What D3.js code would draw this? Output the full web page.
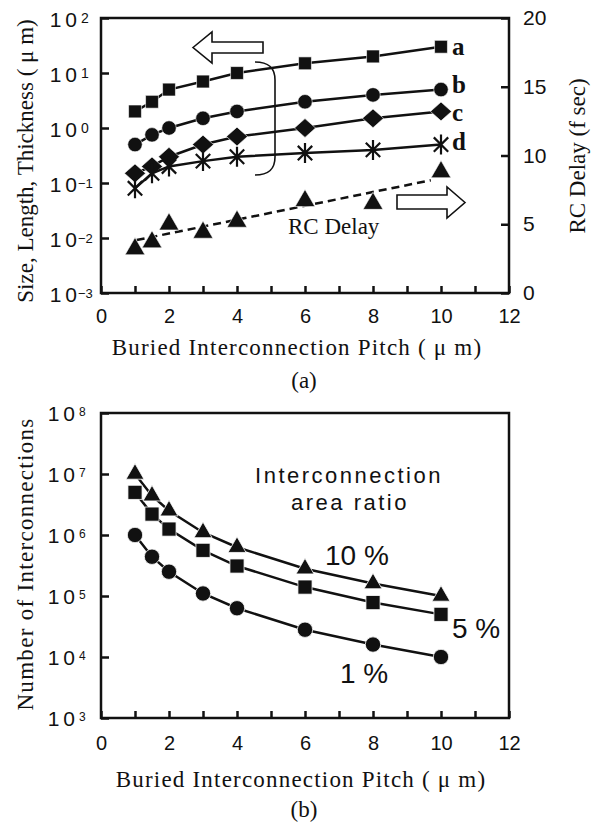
<!DOCTYPE html>
<html><head><meta charset="utf-8">
<script src="https://cdn.jsdelivr.net/npm/d3@7"></script>
<style>body{margin:0;background:#fff} svg{display:block}</style>
</head><body><svg id="c" width="599" height="828"></svg>
<script>
// ---------- data ----------
const pitch = [1, 1.5, 2, 3, 4, 6, 8, 10];
const seriesA = [2, 3, 5, 7, 10, 15, 20, 30];
const seriesB = [0.5, 0.75, 1, 1.5, 2, 3, 4, 5];
const seriesC = [0.15, 0.2, 0.3, 0.5, 0.7, 1.0, 1.5, 2.0];
const seriesD = [0.08, 0.15, 0.2, 0.25, 0.3, 0.35, 0.4, 0.5];
const rcDelay = [3.2, 3.7, 5.0, 4.4, 5.2, 6.7, 6.5, 8.8];
const rcTrendX = [1.05, 9.7];
const rcTrendY = [3.85, 8.2];
const count10 = [1.0e7, 4.4e6, 2.5e6, 1.1e6, 6.3e5, 2.8e5, 1.6e5, 1.0e5];
const count5 = [5.0e6, 2.2e6, 1.25e6, 5.6e5, 3.1e5, 1.4e5, 7.8e4, 5.0e4];
const count1 = [1.0e6, 4.4e5, 2.5e5, 1.1e5, 6.3e4, 2.8e4, 1.6e4, 1.0e4];
const xTicks = [0,1,2,3,4,5,6,7,8,9,10,11,12];
const xTickLabels = ["0","","2","","4","","6","","8","","10","","12"];
const expTop = [-3, -2, -1, 0, 1, 2];
const expBottom = [3, 4, 5, 6, 7, 8];
const rcTicks = [0, 5, 10, 15, 20];
const seriesLabels = ["a", "b", "c", "d"];
const ratioLabels = ["10 %", "5 %", "1 %"];

// ---------- setup ----------
const SANS = "'Liberation Sans', Arial, sans-serif";
const SERIF = "'Liberation Serif', 'Times New Roman', serif";
const INK = "#111";
const svg = d3.select("#c");
svg.append("rect").attr("width", 599).attr("height", 828).attr("fill", "#fff");

const P1 = {l: 101, r: 509, t: 18, b: 293};
const P2 = {l: 101, r: 509, t: 413, b: 718};
const x1 = d3.scaleLinear([0, 12], [P1.l, P1.r]);
const y1 = d3.scaleLog([1e-3, 1e2], [P1.b, P1.t]);
const yR = d3.scaleLinear([0, 20], [P1.b, P1.t]);
const x2 = d3.scaleLinear([0, 12], [P2.l, P2.r]);
const y2 = d3.scaleLog([1e3, 1e8], [P2.b, P2.t]);

// custom symbols
const asterisk = {draw(ctx, size) {
  const r = Math.sqrt(size) / 2, d = r * 0.72;
  ctx.moveTo(0, -r); ctx.lineTo(0, r);
  ctx.moveTo(-d, -d); ctx.lineTo(d, d);
  ctx.moveTo(-d, d); ctx.lineTo(d, -d);
}};
const diamond = {draw(ctx, size) {
  const w = Math.sqrt(size) * 0.72, h = Math.sqrt(size) * 0.64;
  ctx.moveTo(0, -h); ctx.lineTo(w, 0); ctx.lineTo(0, h); ctx.lineTo(-w, 0); ctx.closePath();
}};

function frame(P) {
  svg.append("rect").attr("x", P.l).attr("y", P.t).attr("width", P.r - P.l).attr("height", P.b - P.t)
    .attr("fill", "none").attr("stroke", INK).attr("stroke-width", 2.5);
}

function xAxis(P, x, pad) {
  const g = svg.append("g").attr("transform", `translate(0,${P.b})`)
    .call(d3.axisBottom(x).tickValues(xTicks).tickSize(-7).tickSizeOuter(0).tickPadding(pad)
      .tickFormat((d, i) => xTickLabels[i]));
  g.select(".domain").remove();
  g.selectAll(".tick line").attr("stroke", INK).attr("stroke-width", 2.5);
  g.selectAll(".tick text").attr("font-family", SANS).attr("font-size", 20).attr("fill", INK);
}

function logAxis(P, y, exps, endX, base, expDy, expSize) {
  const g = svg.append("g").attr("transform", `translate(${P.l},0)`)
    .call(d3.axisLeft(y).tickValues(exps.map(e => Math.pow(10, e))).tickSize(-8).tickSizeOuter(0).tickFormat(() => ""));
  g.select(".domain").remove();
  g.selectAll(".tick line").attr("stroke", INK).attr("stroke-width", 2.5);
  const lab = svg.append("g");
  exps.forEach(e => {
    const yy = y(Math.pow(10, e));
    const t = lab.append("text").attr("x", endX).attr("y", yy + base).attr("text-anchor", "end")
      .attr("font-family", SANS).attr("font-size", 21).attr("fill", INK);
    t.append("tspan").text("1");
    t.append("tspan").attr("dx", 4).text("0");
    lab.append("text").attr("x", endX + (e < 0 ? 1 : 4)).attr("y", yy + expDy)
      .attr("font-family", SANS).attr("font-size", e < 0 ? expSize - 1 : expSize).attr("fill", INK)
      .text(e < 0 ? "\u2212" + (-e) : String(e));
  });
}

// ================= Chart (a) =================
frame(P1);
xAxis(P1, x1, 16);
logAxis(P1, y1, expTop, 77, 9, 5, 14);
{
  const g = svg.append("g").attr("transform", `translate(${P1.r},0)`)
    .call(d3.axisRight(yR).tickValues(rcTicks).tickSize(-8).tickSizeOuter(0).tickPadding(14).tickFormat(d => d));
  g.select(".domain").remove();
  g.selectAll(".tick line").attr("stroke", INK).attr("stroke-width", 2.5);
  g.selectAll(".tick text").attr("font-family", SANS).attr("font-size", 21).attr("fill", INK);
}

const lineL = d3.line().x(d => x1(d[0])).y(d => y1(d[1]));
const topSeries = [
  {vals: seriesA, sym: d3.symbolSquare, size: 165, stroke: 0},
  {vals: seriesB, sym: d3.symbolCircle, size: 165, stroke: 0},
  {vals: seriesC, sym: diamond, size: 215, stroke: 0},
  {vals: seriesD, sym: asterisk, size: 400, stroke: 2}
];
const labelDy = [8, 3, 10, 5];
topSeries.forEach((s, k) => {
  const pts = pitch.map((p, i) => [p, s.vals[i]]);
  svg.append("path").attr("d", lineL(pts)).attr("fill", "none").attr("stroke", INK).attr("stroke-width", 2.5);
  svg.append("g").selectAll("path").data(pts).join("path")
    .attr("transform", d => `translate(${x1(d[0])},${y1(d[1])})`)
    .attr("d", d3.symbol().type(s.sym).size(s.size))
    .attr("fill", s.stroke ? "none" : INK)
    .attr("stroke", s.stroke ? INK : "#fff")
    .attr("stroke-width", s.stroke ? 2.2 : 0.6);
  svg.append("text").attr("x", x1(10) + 11).attr("y", y1(s.vals[s.vals.length - 1]) + labelDy[k])
    .attr("font-family", SERIF).attr("font-weight", "bold").attr("font-size", 25).attr("fill", INK)
    .text(seriesLabels[k]);
});

// RC delay
svg.append("path")
  .attr("d", d3.line().x(d => x1(d[0])).y(d => yR(d[1]))(rcTrendX.map((v, i) => [v, rcTrendY[i]])))
  .attr("fill", "none").attr("stroke", INK).attr("stroke-width", 2.5).attr("stroke-dasharray", "8,5");
svg.append("g").selectAll("path").data(pitch.map((p, i) => [p, rcDelay[i]])).join("path")
  .attr("transform", d => `translate(${x1(d[0])},${yR(d[1])})`)
  .attr("d", d3.symbol().type(d3.symbolTriangle).size(170))
  .attr("fill", INK).attr("stroke", "#fff").attr("stroke-width", 0.6);

svg.append("text").attr("x", 288).attr("y", 234).attr("font-family", SERIF).attr("font-size", 23)
  .attr("fill", INK).text("RC Delay");

// arrows and brace
const arrowL = [[193,47.5],[212,32],[212,42],[263,42],[263,53],[212,53],[212,63]];
const arrowR = [[465,202.5],[447,187],[447,195],[397,195],[397,209],[447,209],[447,218]];
[arrowL, arrowR].forEach(a => svg.append("polygon").attr("points", a.map(p => p.join(",")).join(" "))
  .attr("fill", "#fff").attr("stroke", INK).attr("stroke-width", 1.6));
svg.append("path").attr("d", "M255,62 C268,62 275,67 275,80 L275,157 C275,170 268,175 255,175")
  .attr("fill", "none").attr("stroke", INK).attr("stroke-width", 1.6);

// titles (a)
svg.append("text").attr("transform", "translate(33,161) rotate(-90)").attr("text-anchor", "middle")
  .attr("font-family", SERIF).attr("font-size", 23).attr("fill", INK).text("Size, Length, Thickness ( \u03bc m)");
svg.append("text").attr("transform", "translate(585,156) rotate(-90)").attr("text-anchor", "middle")
  .attr("font-family", SERIF).attr("font-size", 23).attr("fill", INK).text("RC Delay (f sec)");
svg.append("text").attr("x", 297).attr("y", 355).attr("text-anchor", "middle").attr("letter-spacing", 1.2)
  .attr("font-family", SERIF).attr("font-size", 23).attr("fill", INK).text("Buried Interconnection Pitch ( \u03bc m)");
svg.append("text").attr("x", 304).attr("y", 388).attr("text-anchor", "middle")
  .attr("font-family", SERIF).attr("font-size", 23).attr("fill", INK).text("(a)");

// ================= Chart (b) =================
frame(P2);
xAxis(P2, x2, 18);
logAxis(P2, y2, expBottom, 75, 8, 3, 12);

const lineB = d3.line().x(d => x2(d[0])).y(d => y2(d[1]));
const botSeries = [
  {vals: count1, sym: d3.symbolCircle, size: 185},
  {vals: count5, sym: d3.symbolSquare, size: 200},
  {vals: count10, sym: d3.symbolTriangle, size: 140}
];
botSeries.forEach(s => {
  const pts = pitch.map((p, i) => [p, s.vals[i]]);
  svg.append("path").attr("d", lineB(pts)).attr("fill", "none").attr("stroke", INK).attr("stroke-width", 2.5);
});
botSeries.forEach(s => {
  const pts = pitch.map((p, i) => [p, s.vals[i]]);
  svg.append("g").selectAll("path").data(pts).join("path")
    .attr("transform", d => `translate(${x2(d[0])},${y2(d[1])})`)
    .attr("d", d3.symbol().type(s.sym).size(s.size))
    .attr("fill", INK).attr("stroke", "#fff").attr("stroke-width", 0.8);
});

svg.append("text").attr("x", 349).attr("y", 483).attr("text-anchor", "middle").attr("letter-spacing", 2.5)
  .attr("font-family", SANS).attr("font-size", 22).attr("fill", INK).text("Interconnection");
svg.append("text").attr("x", 350).attr("y", 510).attr("text-anchor", "middle").attr("letter-spacing", 2.5)
  .attr("font-family", SANS).attr("font-size", 22).attr("fill", INK).text("area ratio");
const ratioPos = [[325, 565], [452, 638], [340, 683]];
ratioLabels.forEach((t, i) => svg.append("text").attr("x", ratioPos[i][0]).attr("y", ratioPos[i][1])
  .attr("font-family", SANS).attr("font-size", 28).attr("fill", INK).text(t));

svg.append("text").attr("transform", "translate(33,564) rotate(-90)").attr("text-anchor", "middle").attr("letter-spacing", 1.3)
  .attr("font-family", SERIF).attr("font-size", 23).attr("fill", INK).text("Number of Interconnections");
svg.append("text").attr("x", 301).attr("y", 787).attr("text-anchor", "middle").attr("letter-spacing", 1.2)
  .attr("font-family", SERIF).attr("font-size", 23).attr("fill", INK).text("Buried Interconnection Pitch ( \u03bc m)");
svg.append("text").attr("x", 304).attr("y", 817).attr("text-anchor", "middle")
  .attr("font-family", SERIF).attr("font-size", 23).attr("fill", INK).text("(b)");
</script></body></html>
